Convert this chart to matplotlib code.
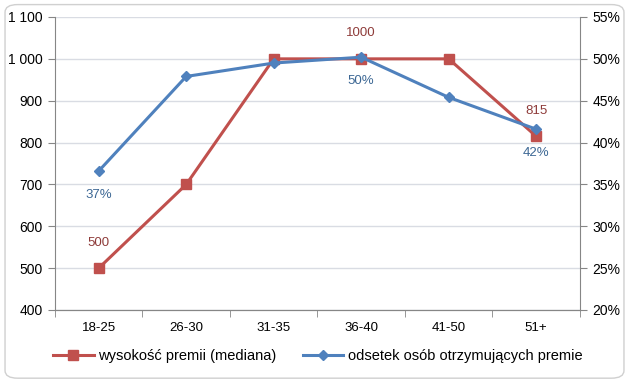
"""Median bonus vs share of people receiving a bonus, by age group."""

import matplotlib

matplotlib.use("Agg")
import matplotlib.pyplot as plt
from matplotlib.patches import FancyBboxPatch
from matplotlib.ticker import FuncFormatter, FixedLocator

plt.rcParams["font.family"] = ["Liberation Sans", "DejaVu Sans"]

age_groups = ["18-25", "26-30", "31-35", "36-40", "41-50", "51+"]
bonus_median = [500, 700, 1000, 1000, 1000, 815]
share_receiving = [0.366, 0.479, 0.495, 0.502, 0.454, 0.416]

# which points get a data label
bonus_labelled = [0, 3, 5]
share_labelled = [0, 3, 5]

RED = "#C0504D"
BLUE = "#4F81BD"
RED_TXT = "#8E3B39"
BLUE_TXT = "#3C6794"
AXIS = "#868686"
GRID = "#D9DCE3"

fig = plt.figure(figsize=(6.29, 3.82), dpi=100)
fig.patches.append(
    FancyBboxPatch(
        (0.008, 0.01),
        0.984,
        0.978,
        boxstyle="round,pad=0,rounding_size=0.02",
        transform=fig.transFigure,
        facecolor="white",
        edgecolor="#D0D0D0",
        linewidth=1.0,
        zorder=-10,
    )
)

ax = fig.add_axes([0.0874, 0.1885, 0.8346, 0.767])
ax2 = ax.twinx()

x = list(range(len(age_groups)))

ax.plot(
    x,
    bonus_median,
    color=RED,
    lw=2.2,
    marker="s",
    markersize=7,
    label="wysokość premii (mediana)",
    zorder=3,
)
ax2.plot(
    x,
    share_receiving,
    color=BLUE,
    lw=2.2,
    marker="D",
    markersize=5.5,
    label="odsetek osób otrzymujących premie",
    zorder=3,
)

ax.set_xlim(-0.5, len(age_groups) - 0.5)
ax.set_ylim(400, 1100)
ax2.set_ylim(0.20, 0.55)
ax.set_yticks(range(400, 1101, 100))
ax2.set_yticks([0.20, 0.25, 0.30, 0.35, 0.40, 0.45, 0.50, 0.55])

ax.yaxis.set_major_formatter(
    FuncFormatter(lambda v, _: f"{int(v):,}".replace(",", " "))
)
ax2.yaxis.set_major_formatter(FuncFormatter(lambda v, _: f"{v * 100:.0f}%"))

ax.set_xticks(x)
ax.set_xticklabels(age_groups)
ax.xaxis.set_minor_locator(FixedLocator([i - 0.5 for i in range(len(age_groups) + 1)]))
ax.tick_params(axis="x", which="major", length=0, pad=9, labelsize=9.5, colors="black")
ax.tick_params(axis="x", which="minor", length=5, color=AXIS, direction="out")
ax.tick_params(axis="y", length=5, color=AXIS, labelsize=10, pad=4)
ax2.tick_params(axis="y", length=5, color=AXIS, labelsize=10, pad=4)

ax.grid(axis="y", color=GRID, lw=1.0)
ax.set_axisbelow(True)
for a in (ax, ax2):
    a.spines["top"].set_visible(False)
    for s in ("left", "right", "bottom"):
        a.spines[s].set_color(AXIS)
ax2.spines["left"].set_visible(False)
ax.spines["right"].set_visible(False)

for i in bonus_labelled:
    ax.annotate(
        str(bonus_median[i]),
        (x[i], bonus_median[i]),
        xytext=(0, 14),
        textcoords="offset points",
        ha="center",
        va="bottom",
        color=RED_TXT,
        fontsize=9.5,
    )
for i in share_labelled:
    ax2.annotate(
        f"{share_receiving[i] * 100:.0f}%",
        (x[i], share_receiving[i]),
        xytext=(0, -13),
        textcoords="offset points",
        ha="center",
        va="top",
        color=BLUE_TXT,
        fontsize=9.5,
    )

handles = ax.get_legend_handles_labels()[0] + ax2.get_legend_handles_labels()[0]
labels = ax.get_legend_handles_labels()[1] + ax2.get_legend_handles_labels()[1]
fig.legend(
    handles,
    labels,
    loc="center",
    bbox_to_anchor=(0.505, 0.068),
    ncol=2,
    frameon=False,
    fontsize=10.5,
    handlelength=2.8,
    columnspacing=1.8,
    handletextpad=0.3,
)

fig.savefig("out.png", dpi=100, facecolor="white")
